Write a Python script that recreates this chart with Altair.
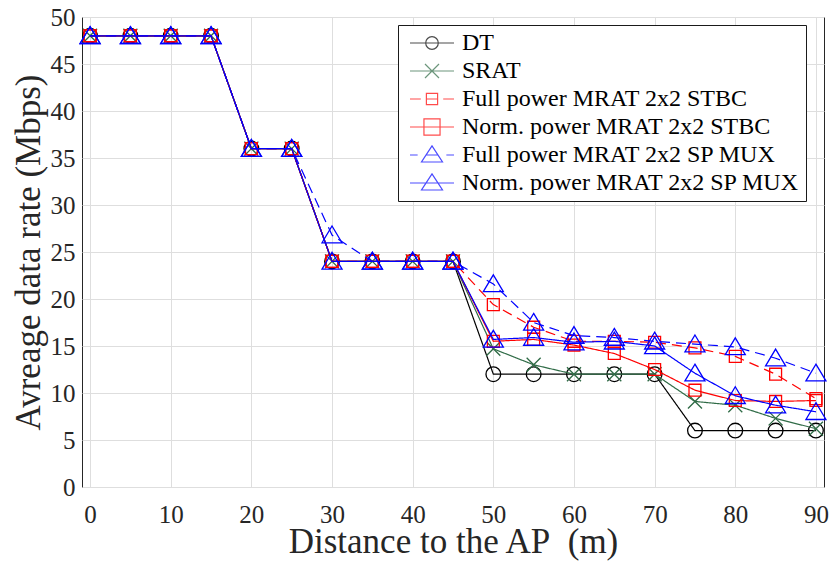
import altair as alt
import pandas as pd

distance = [0, 5, 10, 15, 20, 25, 30, 35, 40, 45, 50, 55, 60, 65, 70, 75, 80, 85, 90]

dt = [48, 48, 48, 48, 36, 36, 24, 24, 24, 24, 12, 12, 12, 12, 12, 6, 6, 6, 6]
srat = [48, 48, 48, 48, 36, 36, 24, 24, 24, 24, 14.7, 13.0, 12.0, 12.0, 12.0, 9.1, 8.7, 7.3, 6.2]
full_stbc = [48, 48, 48, 48, 36, 36, 24, 24, 24, 24, 19.4, 17.0, 15.5, 15.5, 15.4, 14.8, 13.9, 12.0, 9.4]
norm_stbc = [48, 48, 48, 48, 36, 36, 24, 24, 24, 24, 15.5, 15.7, 15.1, 14.2, 12.5, 10.3, 9.2, 9.1, 9.2]
full_spmux = [48, 48, 48, 48, 36, 36, 26.8, 24, 24, 24, 21.6, 17.5, 16.1, 15.9, 15.5, 15.2, 14.9, 13.7, 12.1]
norm_spmux = [48, 48, 48, 48, 36, 36, 24, 24, 24, 24, 15.7, 15.9, 15.4, 15.5, 15.0, 12.1, 9.7, 8.7, 8.0]

names = [
    "DT",
    "SRAT",
    "Full power MRAT 2x2 STBC",
    "Norm. power MRAT 2x2 STBC",
    "Full power MRAT 2x2 SP MUX",
    "Norm. power MRAT 2x2 SP MUX",
]
values = [dt, srat, full_stbc, norm_stbc, full_spmux, norm_spmux]
colors = ["#000000", "#2f6b46", "#ff0000", "#ff0000", "#0000ff", "#0000ff"]
dashes = [[1, 0], [1, 0], [10, 6], [1, 0], [10, 6], [1, 0]]

circle = "M1.05,0A1.05,1.05,0,1,1,-1.05,0A1.05,1.05,0,1,1,1.05,0Z"
xmark = "M-1,-1L1,1M-1,1L1,-1"
square = "M-0.85,-0.85L0.85,-0.85L0.85,0.85L-0.85,0.85Z"
triangle = "M0,-1.3L1.43,1.1L-1.43,1.1Z"
markers = [circle, xmark, square, square, triangle, triangle]

solid = "M-3.15,0L3.15,0"
leg_paths = [
    solid + "M0.9,0A0.9,0.9,0,1,1,-0.9,0A0.9,0.9,0,1,1,0.9,0Z",
    solid + "M-1,-1L1,1M-1,1L1,-1",
    "M-3.15,0L-1.6,0M-0.8,0L0.8,0M1.6,0L3.15,0M-0.8,-0.8L0.8,-0.8L0.8,0.8L-0.8,0.8Z",
    solid + "M-1.15,-1.15L1.15,-1.15L1.15,1.15L-1.15,1.15Z",
    "M-3.15,0L-2.05,0M-0.82,0L0.82,0M2.05,0L3.15,0M0,-1.3L1.5,1L-1.5,1Z",
    solid + "M0,-1.3L1.5,1L-1.5,1Z",
]

rows = []
for n, vals in zip(names, values):
    for d, v in zip(distance, vals):
        rows.append({"x": d, "y": v, "series": n})
df = pd.DataFrame(rows)

FONT = "Liberation Serif"
INK = "#262626"

xenc = alt.X(
    "x:Q",
    scale=alt.Scale(domain=[-1, 91], nice=False, zero=False),
    axis=alt.Axis(
        values=list(range(0, 91, 10)),
        title="Distance to the AP\u00a0\u00a0(m)",
        titleX=371,
        titleY=65,
        titleBaseline="alphabetic",
        labelFont=FONT,
        labelFontSize=25,
        labelColor=INK,
        labelPadding=15,
        labelFlush=False,
        labelOverlap=False,
        titleFont=FONT,
        titleFontSize=35,
        titleFontWeight="normal",
        titleColor=INK,
    ),
)
yenc = alt.Y(
    "y:Q",
    scale=alt.Scale(domain=[0, 50], nice=False),
    axis=alt.Axis(
        values=list(range(0, 51, 5)),
        title="Avreage data rate (Mbps)",
        titleX=-43,
        titleY=235,
        titleBaseline="alphabetic",
        labelFont=FONT,
        labelFontSize=25,
        labelColor=INK,
        labelPadding=7,
        labelFlush=False,
        labelOverlap=False,
        titleFont=FONT,
        titleFontSize=35,
        titleFontWeight="normal",
        titleColor=INK,
    ),
)

layers = []
for n, c, dsh, mk in zip(names, colors, dashes, markers):
    base = alt.Chart(df).transform_filter(alt.datum.series == n)
    layers.append(
        base.mark_line(color=c, strokeWidth=1.2, strokeDash=dsh).encode(x=xenc, y=yenc)
    )
    layers.append(
        base.mark_point(
            shape=mk, size=196, filled=False, color=c, strokeWidth=1.3, opacity=1
        ).encode(x=xenc, y=yenc)
    )

legend_cfg = alt.Legend(
    orient="none",
    legendX=316,
    legendY=8,
    padding=6,
    fillColor="white",
    strokeColor="#1a1a1a",
    cornerRadius=0,
    labelFont=FONT,
    labelFontSize=24,
    labelColor="#000000",
    labelOffset=18,
    symbolOffset=16,
    symbolSize=196,
    symbolStrokeWidth=1.2,
    rowPadding=4,
    labelLimit=500,
)

legend_layer = (
    alt.Chart(df)
    .transform_filter("datum.x < -100")
    .mark_point(filled=False, size=196, strokeWidth=1.2)
    .encode(
        x=xenc,
        y=yenc,
        shape=alt.Shape(
            "series:N",
            title=None,
            scale=alt.Scale(domain=names, range=leg_paths),
            legend=legend_cfg,
        ),
        color=alt.Color(
            "series:N",
            title=None,
            scale=alt.Scale(domain=names, range=colors),
            legend=legend_cfg,
        ),
    )
)

chart = (
    alt.layer(*layers, legend_layer)
    .properties(
        width=742,
        height=470,
        autosize=alt.AutoSizeParams(type="none"),
        padding={"left": 74, "top": 9, "right": 6, "bottom": 77},
        background="white",
    )
    .configure(
        font=FONT,
        style={"guide-label": {"font": FONT}, "guide-title": {"font": FONT}},
    )
    .configure_view(stroke=INK, strokeWidth=1, fill="white")
    .configure_axis(
        domain=False,
        ticks=False,
        grid=True,
        gridColor="#dedede",
        gridWidth=1,
        labelFont=FONT,
    )
    .configure_legend(labelFont=FONT)
)

chart.save("out.html", embed_options={"renderer": "svg", "actions": False})
